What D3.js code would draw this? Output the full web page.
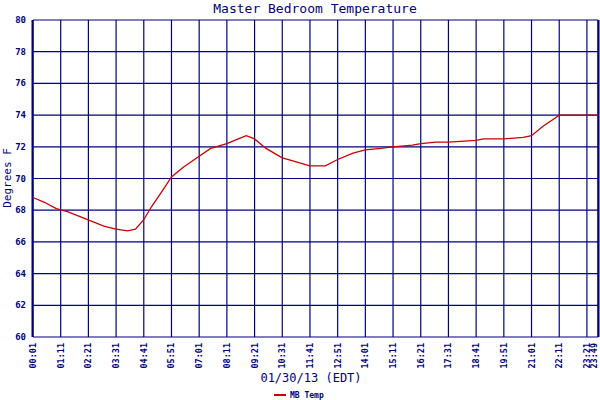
<!DOCTYPE html>
<html><head><meta charset="utf-8">
<script src="https://cdn.jsdelivr.net/npm/d3@7"></script>
<style>body{margin:0;background:#fff}text{font-family:"DejaVu Sans Mono",monospace;fill:#000080}</style>
</head><body><svg id="c" width="600" height="400"></svg>
<script>
// tick labels (minutes since midnight)
const tickLabels = ['00:01','01:11','02:21','03:31','04:41','05:51','07:01','08:11','09:21','10:31','11:41','12:51','14:01','15:11','16:21','17:31','18:41','19:51','21:01','22:11','23:21','23:49'];
const yTicks = [60,62,64,66,68,70,72,74,76,78,80];
// readings
const times = ['00:01','00:30','01:00','01:30','02:00','02:30','03:00','03:31','04:00','04:20','04:41','05:00','05:30','05:51','06:20','07:01','07:30','08:11','08:40','09:00','09:21','09:50','10:31','11:00','11:41','12:20','12:51','13:30','14:01','14:40','15:11','16:00','16:21','17:00','17:31','18:41','19:00','19:51','20:40','21:01','21:30','22:00','22:11','23:49'];
const temps = [68.8,68.5,68.1,67.9,67.6,67.3,67.0,66.8,66.7,66.8,67.4,68.2,69.3,70.1,70.7,71.4,71.9,72.2,72.5,72.7,72.5,71.9,71.3,71.1,70.8,70.8,71.2,71.6,71.8,71.9,72.0,72.1,72.2,72.3,72.3,72.4,72.5,72.5,72.6,72.7,73.3,73.8,74.0,74.0];

const mins = s => { const [h,m] = s.split(':').map(Number); return h*60+m; };
const svg = d3.select('#c');
const x = d3.scaleLinear().domain([1, 1429]).range([33, 598]);
const y = d3.scaleLinear().domain([60, 80]).range([337, 20]);
const navy = '#000080';

const g = svg.append('g');
g.selectAll('.h').data(yTicks).join('line')
  .attr('x1', 33).attr('x2', 598).attr('y1', d => y(d)).attr('y2', d => y(d))
  .attr('stroke', navy).attr('stroke-width', 1.2);
g.selectAll('.v').data(tickLabels).join('line')
  .attr('x1', d => x(mins(d))).attr('x2', d => x(mins(d))).attr('y1', 20).attr('y2', 337)
  .attr('stroke', navy).attr('stroke-width', 1.2);
g.append('line').attr('x1', 32.5).attr('x2', 32.5).attr('y1', 20).attr('y2', 337).attr('stroke', navy).attr('stroke-width', 2);
g.append('line').attr('x1', 598.5).attr('x2', 598.5).attr('y1', 20).attr('y2', 337).attr('stroke', navy).attr('stroke-width', 2);

g.selectAll('.yl').data(yTicks).join('text')
  .attr('x', 26).attr('y', d => y(d) + 3).attr('text-anchor', 'end')
  .attr('font-size', 9).attr('font-weight', 'bold').text(d => d);
g.selectAll('.xl').data(tickLabels).join('text')
  .attr('transform', (d, i) => `translate(${Math.min(x(mins(d)) + 3, 597)},343) rotate(-90)`)
  .attr('text-anchor', 'end').attr('font-size', 8.5).attr('font-weight', 'bold').text(d => d);

const data = times.map((t, i) => ({ t: mins(t), v: temps[i] }));
svg.append('path').datum(data)
  .attr('d', d3.line().x(d => x(d.t)).y(d => y(d.v)))
  .attr('fill', 'none').attr('stroke', '#cc0000').attr('stroke-width', 1.3);

svg.append('text').attr('x', 315).attr('y', 13).attr('text-anchor', 'middle').attr('font-size', 13).text('Master Bedroom Temperature');
svg.append('text').attr('transform', 'translate(11,178) rotate(-90)').attr('text-anchor', 'middle').attr('font-size', 11).text('Degrees F');
svg.append('text').attr('x', 311).attr('y', 382).attr('text-anchor', 'middle').attr('font-size', 12).text('01/30/13 (EDT)');
svg.append('line').attr('x1', 274).attr('x2', 286).attr('y1', 395).attr('y2', 395).attr('stroke', '#cc0000').attr('stroke-width', 2);
svg.append('text').attr('x', 290).attr('y', 398).attr('font-size', 8).attr('font-weight', 'bold').text('MB Temp');
</script></body></html>
